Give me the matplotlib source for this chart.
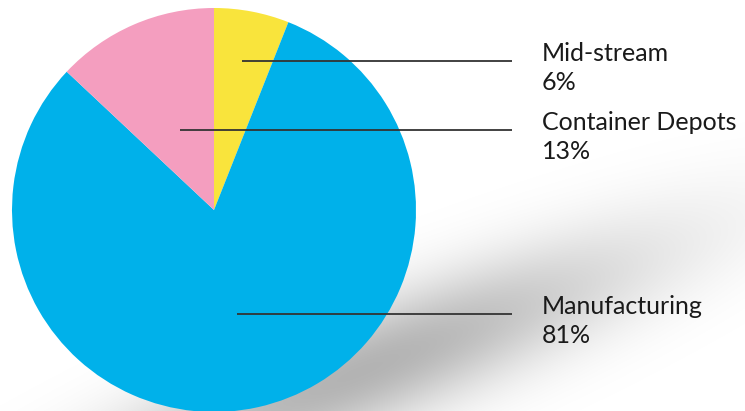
import numpy as np
import matplotlib
matplotlib.use("Agg")
import matplotlib.pyplot as plt

# Share of each segment, drawn clockwise from 12 o'clock
labels = ['Mid-stream', 'Manufacturing', 'Container Depots']
shares = [6, 81, 13]
colors = ['#F9E43C', '#00B1EA', '#F49EBF']

# Where each leader line starts, as a fraction of the radius along the wedge bisector
anchor_frac = {'Mid-stream': 0.75, 'Manufacturing': 0.53, 'Container Depots': 0.43}

W, H = 745, 411
CENTER = (214, 201)   # data coords, y up
RADIUS = 202
LINE_END = 512
TEXT_X = 542
TEXT_COLOR = '#1a1a1a'
FONT = ['Lato', 'DejaVu Sans']

fig = plt.figure(figsize=(W / 100, H / 100), dpi=100)
ax = fig.add_axes([0, 0, 1, 1])

# Soft drop shadow to the lower right of the pie (blurred, tilted ellipse)
px, py = np.meshgrid(np.arange(W) + 0.5, np.arange(H) + 0.5)
a = np.deg2rad(22)
dx, dy = px - 360, py - 372
u = dx * np.cos(a) - dy * np.sin(a)
v = dx * np.sin(a) + dy * np.cos(a)
alpha = 0.3 * np.exp(-0.5 * (u / 215) ** 2 - 0.5 * (v / 42) ** 2)
shadow = np.zeros((H, W, 4))
shadow[..., 3] = alpha
ax.imshow(shadow, extent=(0, W, 0, H), origin='upper', zorder=0,
          interpolation='bilinear')

wedges, _ = ax.pie(shares, colors=colors, startangle=90, counterclock=False,
                   center=CENTER, radius=RADIUS, frame=True,
                   wedgeprops=dict(linewidth=0, zorder=2))

for w, name, pct in zip(wedges, labels, shares):
    mid = np.deg2rad((w.theta1 + w.theta2) / 2)
    r = anchor_frac[name] * RADIUS
    x0 = CENTER[0] + r * np.cos(mid)
    y0 = CENTER[1] + r * np.sin(mid)
    ax.plot([x0, LINE_END], [y0, y0], color='#333333', lw=1.3, zorder=3,
            solid_capstyle='butt')
    ax.text(TEXT_X, y0, name, fontsize=18, family=FONT, color=TEXT_COLOR,
            va='baseline', ha='left', zorder=4)
    ax.text(TEXT_X, y0 - 29, f'{pct}%', fontsize=18, family=FONT,
            color=TEXT_COLOR, va='baseline', ha='left', zorder=4)

ax.set_xlim(0, W)
ax.set_ylim(0, H)
ax.set_aspect('auto')
ax.axis('off')

fig.savefig('out.png', dpi=100, facecolor='white')
